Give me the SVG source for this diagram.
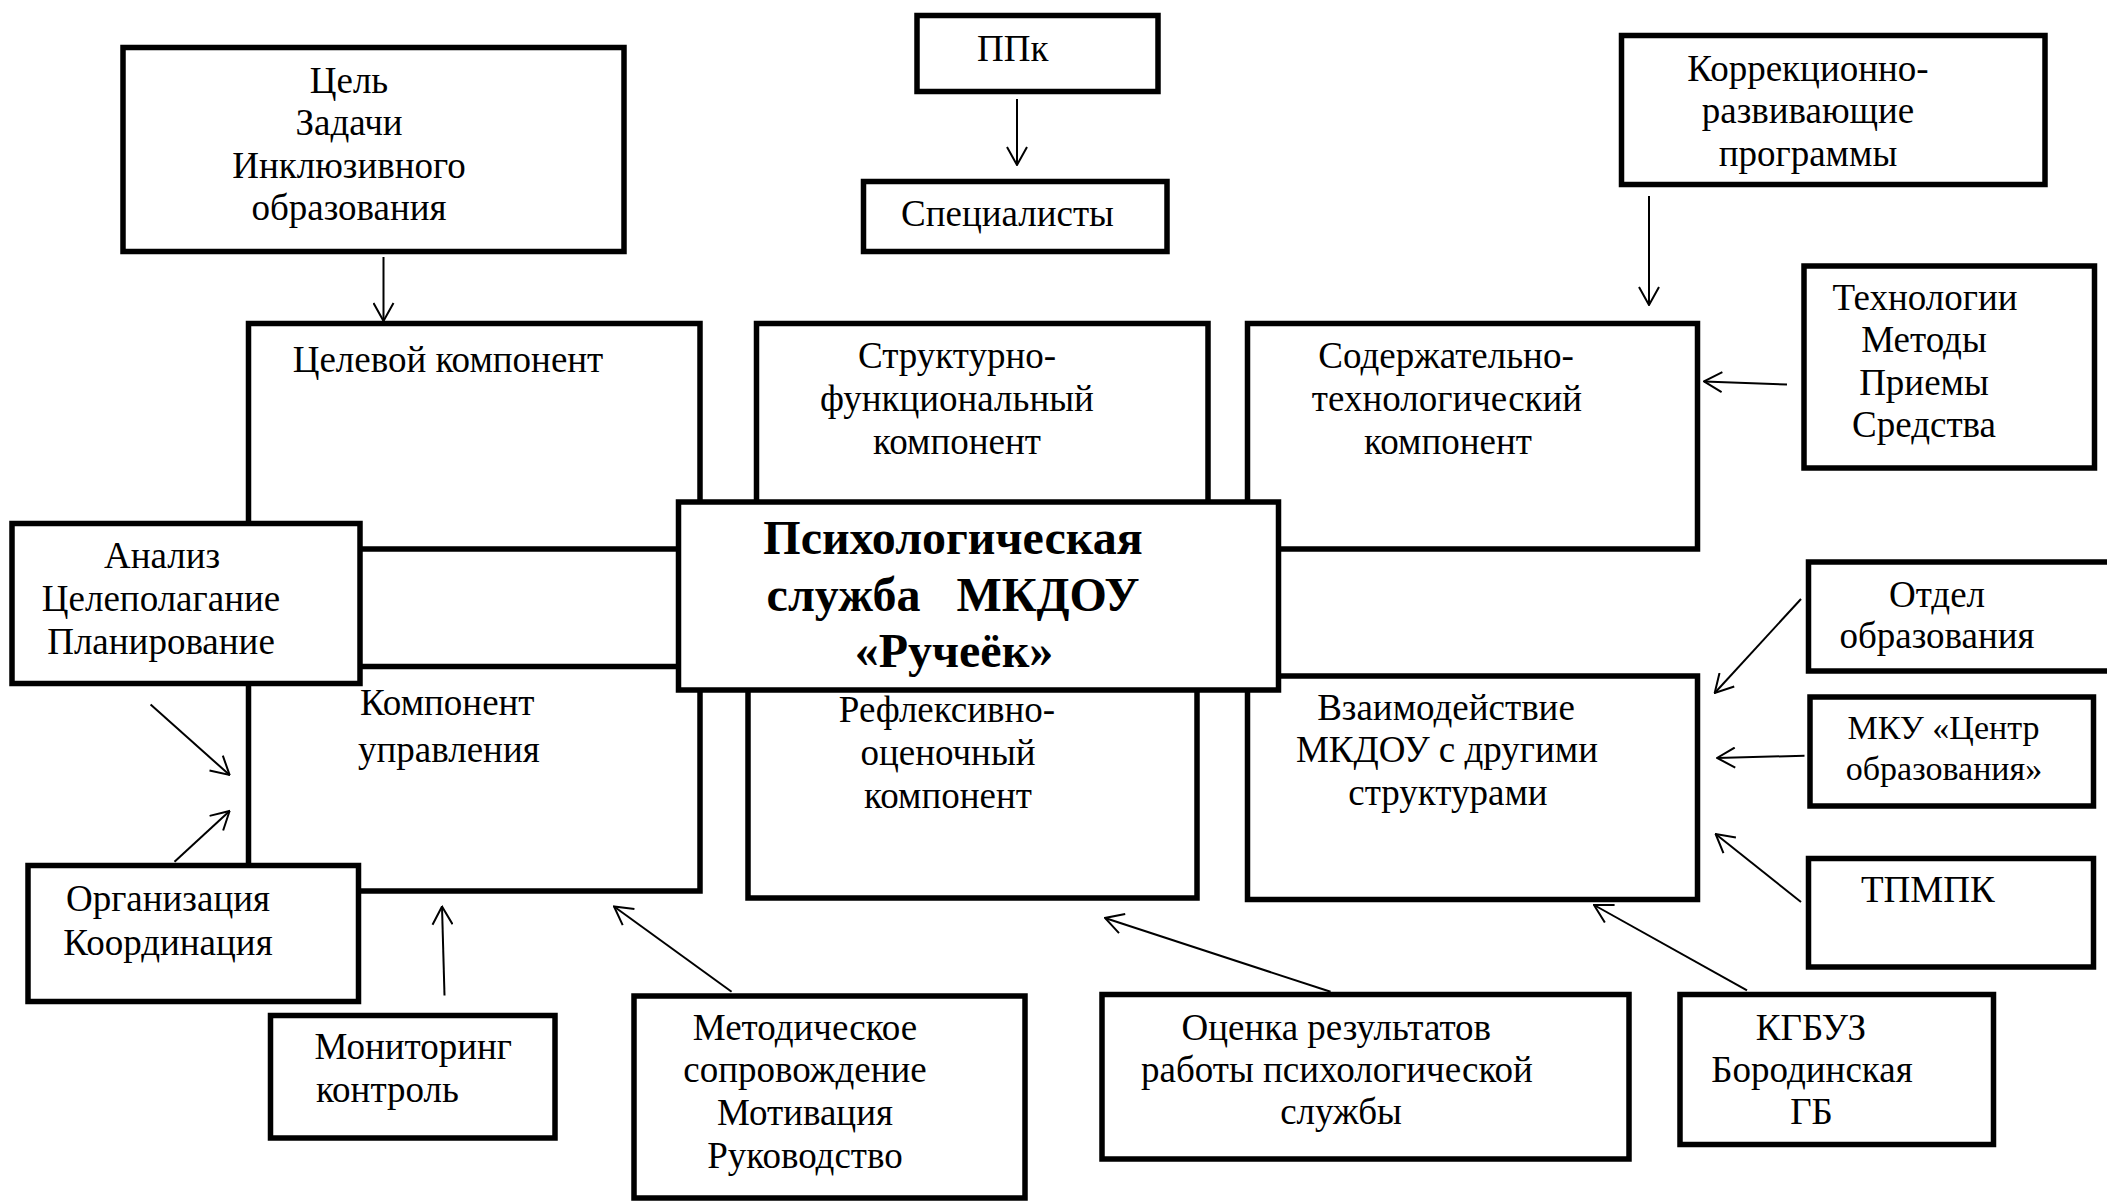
<svg xmlns="http://www.w3.org/2000/svg" width="2107" height="1203" viewBox="0 0 2107 1203">
<style>
.b{fill:#fff;stroke:#000;stroke-width:5.5}
.t{font-family:"Liberation Serif","Times New Roman",serif;font-size:37px;fill:#000}
.c{text-anchor:middle}
.h{font-family:"Liberation Serif","Times New Roman",serif;font-size:48px;font-weight:bold;fill:#000;text-anchor:middle;white-space:pre}
.s{font-size:34px}
.a{fill:none;stroke:#000;stroke-width:2;marker-end:url(#ar)}
</style>
<defs>
<marker id="ar" markerUnits="userSpaceOnUse" viewBox="0 0 20 22" refX="19" refY="11" markerWidth="20" markerHeight="22" orient="auto">
<path d="M1,1 L19,11 L1,21" fill="none" stroke="#000" stroke-width="2"/>
</marker>
</defs>
<g id="n-celevoy"><rect class="b" x="248.5" y="323.5" width="451.5" height="225.5"/>
<text class="t c" x="448" y="372">Целевой компонент</text></g>
<g id="n-upravlenie"><rect class="b" x="248.5" y="666.5" width="451.5" height="224.5"/>
<text class="t" x="360" y="715">Компонент</text><text class="t" x="358" y="762">управления</text></g>
<g id="n-struktur"><rect class="b" x="756.5" y="323.5" width="451.5" height="200"/>
<text class="t c" x="957" y="368">Структурно-</text><text class="t c" x="957" y="411">функциональный</text><text class="t c" x="957" y="454">компонент</text></g>
<g id="n-reflex"><rect class="b" x="748" y="620" width="449" height="278"/>
<text class="t c" x="947" y="722">Рефлексивно-</text><text class="t c" x="948" y="765">оценочный</text><text class="t c" x="948" y="808">компонент</text></g>
<g id="n-soderzh"><rect class="b" x="1247.5" y="323.5" width="450" height="225.5"/>
<text class="t c" x="1446" y="368">Содержательно-</text><text class="t c" x="1447" y="411">технологический</text><text class="t c" x="1448" y="454">компонент</text></g>
<g id="n-vzaim"><rect class="b" x="1247.5" y="676" width="450" height="223.5"/>
<text class="t c" x="1446" y="720">Взаимодействие</text><text class="t c" x="1447" y="762">МКДОУ с другими</text><text class="t c" x="1448" y="805">структурами</text></g>
<g id="n-center"><rect class="b" x="678.5" y="502" width="600" height="188"/>
<text class="h" x="953" y="554">Психологическая</text><text class="h" x="953" y="611">служба   МКДОУ</text><text class="h" x="954" y="667">«Ручеёк»</text></g>
<g id="n-cel"><rect class="b" x="123" y="47.5" width="501" height="204"/>
<text class="t c" x="349" y="93">Цель</text><text class="t c" x="349" y="135">Задачи</text><text class="t c" x="349" y="178">Инклюзивного</text><text class="t c" x="349" y="220">образования</text></g>
<g id="n-ppk"><rect class="b" x="917" y="15.5" width="241" height="76"/>
<text class="t" x="977" y="61">ППк</text></g>
<g id="n-spec"><rect class="b" x="863.5" y="181.5" width="303.5" height="70"/>
<text class="t" x="901" y="226">Специалисты</text></g>
<g id="n-korr"><rect class="b" x="1621.5" y="35.5" width="423.5" height="149"/>
<text class="t c" x="1808" y="81">Коррекционно-</text><text class="t c" x="1808" y="123">развивающие</text><text class="t c" x="1808" y="166">программы</text></g>
<g id="n-tech"><rect class="b" x="1804" y="266" width="290.5" height="202"/>
<text class="t c" x="1925" y="310">Технологии</text><text class="t c" x="1924" y="352">Методы</text><text class="t c" x="1924" y="395">Приемы</text><text class="t c" x="1924" y="437">Средства</text></g>
<g id="n-analiz"><rect class="b" x="12" y="523.5" width="348" height="160"/>
<text class="t c" x="162" y="568">Анализ</text><text class="t c" x="161" y="611">Целеполагание</text><text class="t c" x="161" y="654">Планирование</text></g>
<g id="n-org"><rect class="b" x="28" y="865.5" width="330.5" height="136"/>
<text class="t c" x="168" y="911">Организация</text><text class="t c" x="168" y="955">Координация</text></g>
<g id="n-monitor"><rect class="b" x="270.5" y="1015.5" width="284.5" height="122.5"/>
<text class="t" x="314.5" y="1059">Мониторинг</text><text class="t" x="316" y="1102">контроль</text></g>
<g id="n-metod"><rect class="b" x="634" y="996" width="391" height="202"/>
<text class="t c" x="805" y="1040">Методическое</text><text class="t c" x="805" y="1082">сопровождение</text><text class="t c" x="805" y="1125">Мотивация</text><text class="t c" x="805" y="1168">Руководство</text></g>
<g id="n-ocenka"><rect class="b" x="1102" y="994.5" width="527" height="164.5"/>
<text class="t" x="1181.5" y="1040">Оценка результатов</text><text class="t" x="1141" y="1082">работы психологической</text><text class="t c" x="1341" y="1124">службы</text></g>
<g id="n-kgbuz"><rect class="b" x="1680" y="994.5" width="313.5" height="150"/>
<text class="t c" x="1811" y="1040">КГБУЗ</text><text class="t c" x="1812" y="1082">Бородинская</text><text class="t c" x="1811.5" y="1124">ГБ</text></g>
<g id="n-otdel"><rect class="b" x="1808.5" y="562" width="320" height="109"/>
<text class="t c" x="1937" y="607">Отдел</text><text class="t c" x="1937" y="648">образования</text></g>
<g id="n-mku"><rect class="b" x="1810" y="697" width="283.5" height="109"/>
<text class="t s c" x="1943.5" y="739">МКУ «Центр</text><text class="t s c" x="1944" y="780">образования»</text></g>
<g id="n-tpmpk"><rect class="b" x="1808.5" y="858.5" width="285" height="108.5"/>
<text class="t" x="1861" y="902">ТПМПК</text></g>
<g id="connectors">
<path class="a" d="M383.5,257 L383.5,321"/>
<path class="a" d="M1017,99 L1017,165"/>
<path class="a" d="M1649,196 L1649,305"/>
<path class="a" d="M1787,384.6 L1704,381.4"/>
<path class="a" d="M150.6,704.6 L229.6,775"/>
<path class="a" d="M174.5,861.8 L229.6,811"/>
<path class="a" d="M444.5,995.5 L442,906.5"/>
<path class="a" d="M731.6,991.8 L614,906.5"/>
<path class="a" d="M1330.6,991.8 L1105,918"/>
<path class="a" d="M1801,599 L1714.7,693"/>
<path class="a" d="M1804.5,755.7 L1717,758"/>
<path class="a" d="M1801,902 L1715.6,834"/>
<path class="a" d="M1747,990.4 L1594,905"/>
</g>
</svg>
